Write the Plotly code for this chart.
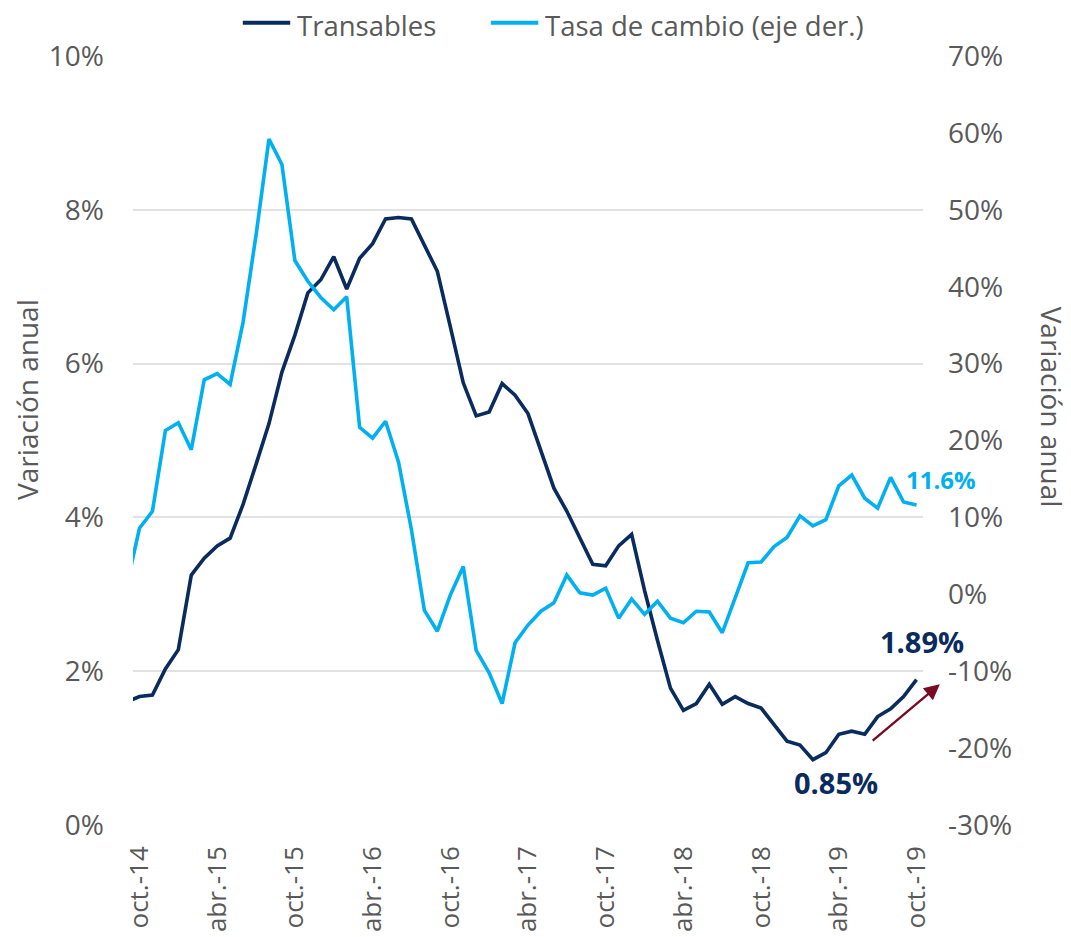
import plotly.graph_objects as go

# ---- data ----
month_abbr = ["ene.", "feb.", "mar.", "abr.", "may.", "jun.",
              "jul.", "ago.", "sep.", "oct.", "nov.", "dic."]
categories = []
for yr in range(14, 20):
    for m in range(12):
        if (yr == 14 and m < 8) or (yr == 19 and m > 9):
            continue
        categories.append(f"{month_abbr[m]}-{yr}")

transables = [1.60, 1.67, 1.69, 2.03, 2.28, 3.25, 3.47, 3.63, 3.73, 4.17,
              4.69, 5.22, 5.89, 6.37, 6.92, 7.09, 7.39, 6.97, 7.37, 7.56,
              7.88, 7.90, 7.88, 7.54, 7.20, 6.48, 5.75, 5.32, 5.37, 5.74,
              5.59, 5.35, 4.86, 4.38, 4.08, 3.73, 3.39, 3.37, 3.63, 3.78,
              3.05, 2.40, 1.78, 1.49, 1.58, 1.83, 1.57, 1.67, 1.58, 1.52,
              1.30, 1.09, 1.04, 0.85, 0.94, 1.18, 1.22, 1.18, 1.41, 1.51,
              1.67, 1.89]

tasa_cambio = [1.0, 8.6, 10.8, 21.3, 22.3, 18.8, 27.9, 28.7, 27.3, 35.4,
               46.7, 59.2, 55.9, 43.4, 40.7, 38.6, 37.0, 38.7, 21.7, 20.3,
               22.5, 17.2, 8.4, -2.1, -4.8, -0.1, 3.6, -7.3, -10.2, -14.2,
               -6.3, -4.0, -2.2, -1.1, 2.5, 0.2, -0.1, 0.8, -3.1, -0.6,
               -2.6, -0.9, -3.1, -3.7, -2.2, -2.3, -5.0, -0.5, 4.1, 4.2,
               6.2, 7.4, 10.2, 8.9, 9.7, 14.1, 15.5, 12.5, 11.2, 15.2,
               12.0, 11.6]

tick_labels = ["oct.-14", "abr.-15", "oct.-15", "abr.-16", "oct.-16", "abr.-17",
               "oct.-17", "abr.-18", "oct.-18", "abr.-19", "oct.-19"]

left_ticks = [0, 2, 4, 6, 8, 10]
right_ticks = [-30, -20, -10, 0, 10, 20, 30, 40, 50, 60, 70]

series_names = ["Transables", "Tasa de cambio (eje der.)"]

# ---- styles ----
DARK = "#0A2B5E"
LIGHT = "#00B0F0"
GRAY = "#595959"
ARROW = "#7A0A22"
FONT = "Open Sans"

fig = go.Figure()
fig.add_trace(go.Scatter(x=categories, y=transables, name=series_names[0],
                         mode="lines", line=dict(color=DARK, width=3.6),
                         yaxis="y", showlegend=False))
fig.add_trace(go.Scatter(x=categories, y=tasa_cambio, name=series_names[1],
                         mode="lines", line=dict(color=LIGHT, width=3.6),
                         yaxis="y2", showlegend=False))

min_idx = transables.index(min(transables))

# custom legend (paper coordinates)
leg_y = 1.0403
legend_items = [(series_names[0], DARK, 0.139, 0.199, 0.206),
                (series_names[1], LIGHT, 0.453, 0.513, 0.520)]
shapes = []
annotations = []
for name, col, x0, x1, xt in legend_items:
    shapes.append(dict(type="line", xref="paper", yref="paper", x0=x0, x1=x1,
                       y0=leg_y + 0.003, y1=leg_y + 0.003, line=dict(color=col, width=4)))
    annotations.append(dict(text=name, xref="paper", yref="paper", x=xt, y=leg_y,
                            xanchor="left", yanchor="middle", showarrow=False,
                            borderpad=0, font=dict(size=27.5, color=GRAY)))

annotations += [
    dict(text="Variación anual", xref="paper", yref="paper",
         x=-0.134, y=0.553, xanchor="center", yanchor="middle", borderpad=0,
         showarrow=False, textangle=-90, font=dict(size=28, color=GRAY)),
    dict(text="Variación anual", xref="paper", yref="paper",
         x=1.1633, y=0.544, xanchor="center", yanchor="middle", borderpad=0,
         showarrow=False, textangle=90, font=dict(size=28, color=GRAY)),
    dict(text="<b>11.6%</b>", x=categories[-1], y=tasa_cambio[-1], xref="x", yref="y2",
         showarrow=False, xshift=24, yshift=26,
         font=dict(size=24, color=LIGHT)),
    dict(text="<b>1.89%</b>", x=categories[-1], y=transables[-1], xref="x", yref="y",
         showarrow=False, xshift=5, yshift=38,
         font=dict(size=29, color=DARK)),
    dict(text="<b>0.85%</b>", x=categories[min_idx], y=transables[min_idx], xref="x", yref="y",
         showarrow=False, xshift=23, yshift=-23,
         font=dict(size=29, color=DARK)),
    dict(text="", x=62.8, y=1.83, ax=57.5, ay=1.08, xref="x", yref="y",
         axref="x", ayref="y", showarrow=True, arrowhead=2, arrowsize=1.3,
         arrowwidth=2.4, arrowcolor=ARROW),
]

fig.update_layout(
    width=1063, height=929,
    margin=dict(l=125, r=148, t=48, b=112, autoexpand=False),
    paper_bgcolor="white", plot_bgcolor="white",
    font=dict(family=FONT, color=GRAY, size=28),
    showlegend=False,
    xaxis=dict(type="category", categoryorder="array", categoryarray=categories,
               range=[0.5, len(categories) - 0.5],
               tickmode="array", tickvals=tick_labels, ticktext=tick_labels,
               tickangle=-90, tickfont=dict(size=26, color=GRAY),
               showgrid=False, showline=False, zeroline=False,
               ticks="", ticklabelstandoff=15, automargin=False),
    yaxis=dict(range=[0, 10], tickmode="array", tickvals=left_ticks,
               ticktext=[f"{v}%" for v in left_ticks],
               showgrid=True, gridcolor="#e2e2e2", gridwidth=1.6,
               zeroline=False, showline=False, ticks="",
               tickfont=dict(size=28, color=GRAY), ticklabelstandoff=28,
               automargin=False),
    yaxis2=dict(range=[-30, 70], overlaying="y", side="right",
                tickmode="array", tickvals=right_ticks,
                ticktext=[f"{v}%" for v in right_ticks],
                showgrid=False, zeroline=False, showline=False, ticks="",
                tickfont=dict(size=28, color=GRAY), ticklabelstandoff=24,
                automargin=False),
    shapes=shapes,
    annotations=annotations,
)

fig.write_html("out.html")
